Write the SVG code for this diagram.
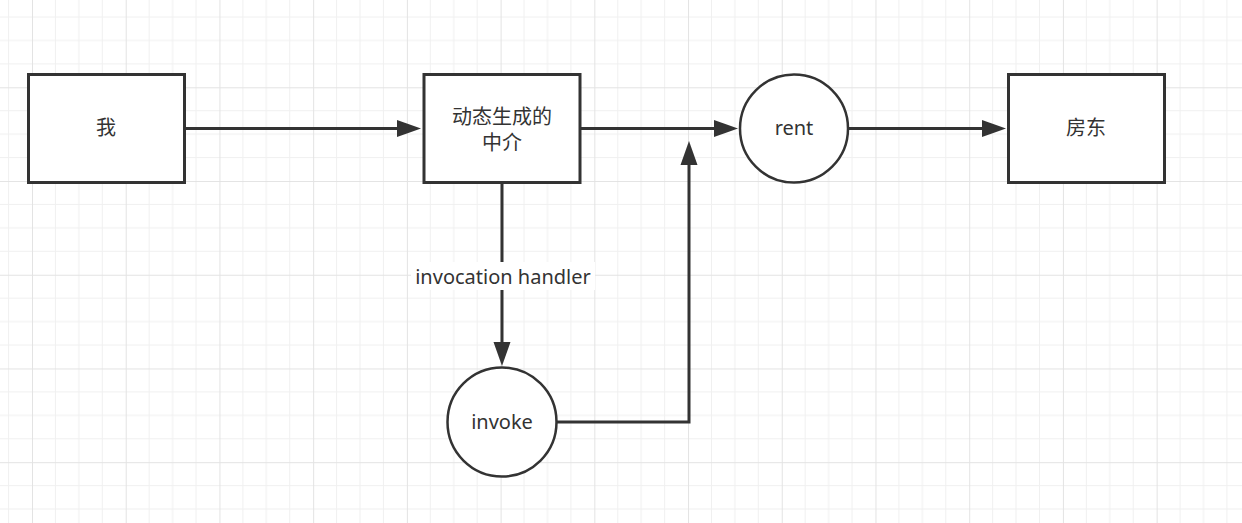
<svg xmlns="http://www.w3.org/2000/svg" width="1242" height="523" viewBox="0 0 1242 523">
<defs>
<pattern id="grid" patternUnits="userSpaceOnUse" x="32" y="87.3" width="93.72" height="93.72">
<path d="M23.43,0V93.72M46.86,0V93.72M70.29,0V93.72M0,23.43H93.72M0,46.86H93.72M0,70.29H93.72" stroke="#f0f0f0" stroke-width="1" fill="none"/>
<path d="M0.5,0V93.72M0,0.5H93.72" stroke="#e3e3e3" stroke-width="1" fill="none"/>
</pattern>
<marker id="arr" markerUnits="userSpaceOnUse" markerWidth="26" markerHeight="18" refX="0" refY="8.5" orient="auto" overflow="visible">
<path d="M0,0L24,8.5L0,17z" fill="#333"/>
</marker>
<style>
.box{fill:#fff;stroke:#333;stroke-width:3}
.circ{fill:#fff;stroke:#333;stroke-width:2.5}
.edge{fill:none;stroke:#333;stroke-width:3;marker-end:url(#arr)}
.t{font-family:"Noto Sans","Noto Sans CJK SC",sans-serif;font-size:20px;fill:#333;text-anchor:middle}
</style>
</defs>
<rect width="1242" height="523" fill="#fff"/>
<rect width="1242" height="523" fill="url(#grid)"/>
<g id="connectors">
<path class="edge" d="M185,128.5H397"/>
<path class="edge" d="M581,128.5H714"/>
<path class="edge" d="M849,128.5H982"/>
<path class="edge" d="M502,184V342"/>
<path class="edge" d="M557,422H689V165"/>
<g id="label-invocation">
<rect x="411" y="262" width="184" height="28" fill="#fff"/>
<text class="t" x="503" y="284">invocation handler</text>
</g>
</g>
<g id="node-me">
<rect class="box" x="28.5" y="74.5" width="156" height="108"/>
<text class="t" x="106" y="135">我</text>
</g>
<g id="node-agent">
<rect class="box" x="424" y="74.5" width="156" height="108"/>
<text class="t" x="502" y="124">动态生成的</text>
<text class="t" x="502" y="150">中介</text>
</g>
<g id="node-rent">
<circle class="circ" cx="794" cy="128.5" r="54"/>
<text class="t" x="794" y="135">rent</text>
</g>
<g id="node-landlord">
<rect class="box" x="1008.5" y="74.5" width="156" height="108"/>
<text class="t" x="1086" y="135">房东</text>
</g>
<g id="node-invoke">
<circle class="circ" cx="502" cy="422" r="54.5"/>
<text class="t" x="502" y="429">invoke</text>
</g>
</svg>
